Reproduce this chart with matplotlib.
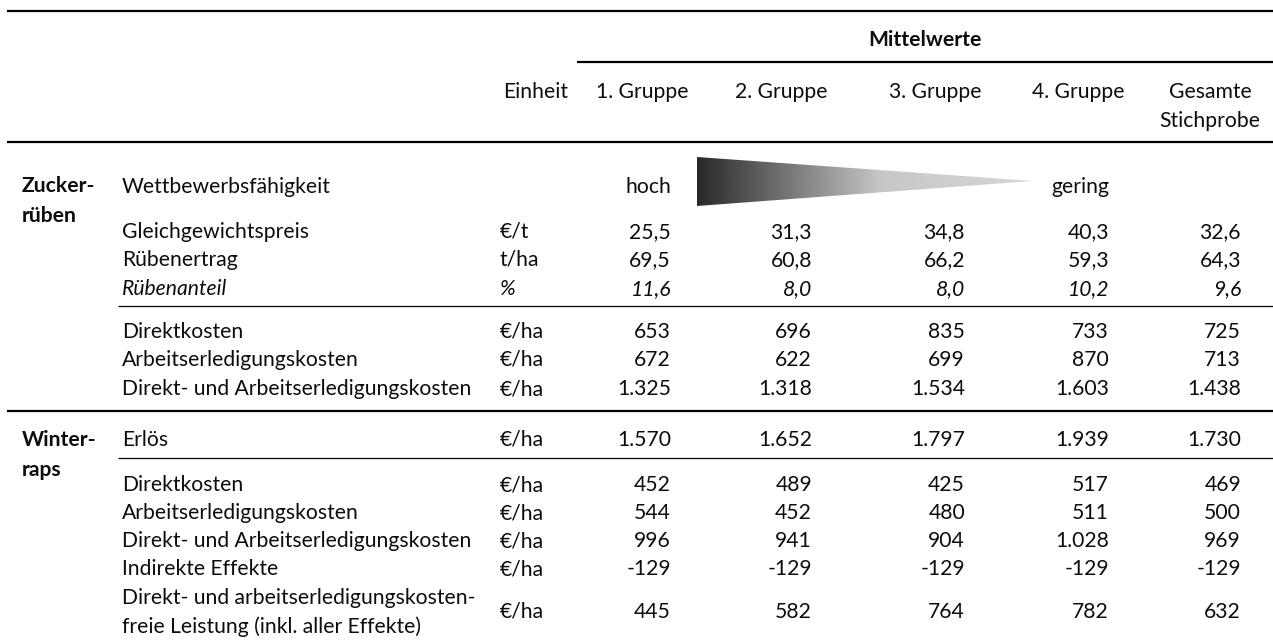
import numpy as np
import matplotlib.pyplot as plt
from matplotlib.patches import Polygon

plt.rcParams['font.family'] = ['Lato', 'DejaVu Sans']
fs = 15.2

# ---- data ----
gruppen = ["1. Gruppe", "2. Gruppe", "3. Gruppe", "4. Gruppe", "Gesamte\nStichprobe"]

zr_labels = ["Gleichgewichtspreis", "Rübenertrag", "Rübenanteil",
             "Direktkosten", "Arbeitserledigungskosten",
             "Direkt- und Arbeitserledigungskosten"]
zr_units = ["€/t", "t/ha", "%", "€/ha", "€/ha", "€/ha"]
zr_preis = [25.5, 31.3, 34.8, 40.3, 32.6]
zr_ertrag = [69.5, 60.8, 66.2, 59.3, 64.3]
zr_anteil = [11.6, 8.0, 8.0, 10.2, 9.6]
zr_direkt = [653, 696, 835, 733, 725]
zr_arbeit = [672, 622, 699, 870, 713]
zr_summe = [1325, 1318, 1534, 1603, 1438]
zr_dec = [1, 1, 1, 0, 0, 0]

wr_labels = ["Erlös", "Direktkosten", "Arbeitserledigungskosten",
             "Direkt- und Arbeitserledigungskosten", "Indirekte Effekte",
             "Direkt- und arbeitserledigungskosten-\nfreie Leistung (inkl. aller Effekte)"]
wr_units = ["€/ha"] * 6
wr_erloes = [1570, 1652, 1797, 1939, 1730]
wr_direkt = [452, 489, 425, 517, 469]
wr_arbeit = [544, 452, 480, 511, 500]
wr_summe = [996, 941, 904, 1028, 969]
wr_indirekt = [-129, -129, -129, -129, -129]
wr_leistung = [445, 582, 764, 782, 632]


def de(v, dec):
    s = "{:,.{}f}".format(v, dec)
    return s.replace(",", "X").replace(".", ",").replace("X", ".")


# ---- layout (pixel coords) ----
W, H = 1273, 642
x_cat, x_lab, x_unit = 22, 122, 500
x_val = [671, 812, 965, 1109, 1241]
x_head = [642, 781, 935, 1078, 1210]
zr_y = [230, 258, 287, 330, 358, 387]
wr_y = [438, 483, 511, 539, 567, 610]
half = 14.5

fig = plt.figure(figsize=(W / 100, H / 100), dpi=100)
ax = fig.add_axes([0, 0, 1, 1])
ax.set_xlim(0, W)
ax.set_ylim(H, 0)
ax.axis('off')


def txt(x, y, s, ha='left', **kw):
    lines = s.split("\n")
    y0 = y - half * (len(lines) - 1)
    for i, l in enumerate(lines):
        ax.text(x, y0 + 2 * half * i, l, ha=ha, va='center_baseline',
                fontsize=fs, color='#0d0d0d', **kw)


# lines
ax.plot([7, W], [11, 11], color='black', lw=1.6, solid_capstyle='butt')
ax.plot([577, W], [62, 62], color='black', lw=1.6, solid_capstyle='butt')
ax.plot([7, W], [142, 142], color='black', lw=1.6, solid_capstyle='butt')
ax.plot([118, W], [306, 306], color='black', lw=0.9, solid_capstyle='butt')
ax.plot([7, W], [411, 411], color='black', lw=1.6, solid_capstyle='butt')
ax.plot([118, W], [458, 458], color='black', lw=0.9, solid_capstyle='butt')

# header
txt((577 + W) / 2, 38, "Mittelwerte", ha='center', fontweight='bold')
txt(503, 90, "Einheit")
for x, g in zip(x_head, gruppen):
    txt(x, 90 + half * g.count("\n"), g, ha='center')

# Zuckerrueben
txt(x_cat, 199, "Zucker-\nrüben", fontweight='bold')
txt(x_lab, 185, "Wettbewerbsfähigkeit")
txt(x_val[0], 185, "hoch", ha='right')
txt(x_val[3], 185, "gering", ha='right')

# gradient wedge
tri = Polygon([[697, 157], [1033, 181], [697, 206]], closed=True,
              facecolor='none', edgecolor='none')
ax.add_patch(tri)
t = np.linspace(0, 1, 400)
g = np.where(t < 0.55, 0.16 + (0.78 - 0.16) * t / 0.55, 0.78 + 0.06 * (t - 0.55) / 0.45)
im = ax.imshow(g[None, :], cmap='gray', vmin=0, vmax=1, aspect='auto',
               extent=[697, 1033, 206, 157], interpolation='bilinear')
im.set_clip_path(tri)

zr_vals = [zr_preis, zr_ertrag, zr_anteil, zr_direkt, zr_arbeit, zr_summe]
for i in range(len(zr_labels)):
    st = 'italic' if zr_labels[i] == "Rübenanteil" else 'normal'
    txt(x_lab, zr_y[i], zr_labels[i], style=st)
    txt(x_unit, zr_y[i], zr_units[i], style=st)
    for j in range(5):
        txt(x_val[j], zr_y[i], de(zr_vals[i][j], zr_dec[i]), ha='right', style=st)

# Winterraps
txt(x_cat, 453, "Winter-\nraps", fontweight='bold')
wr_vals = [wr_erloes, wr_direkt, wr_arbeit, wr_summe, wr_indirekt, wr_leistung]
for i in range(len(wr_labels)):
    txt(x_lab, wr_y[i], wr_labels[i])
    txt(x_unit, wr_y[i], wr_units[i])
    for j in range(5):
        txt(x_val[j], wr_y[i], de(wr_vals[i][j], 0), ha='right')

fig.savefig("out.png", dpi=100, facecolor='white')
